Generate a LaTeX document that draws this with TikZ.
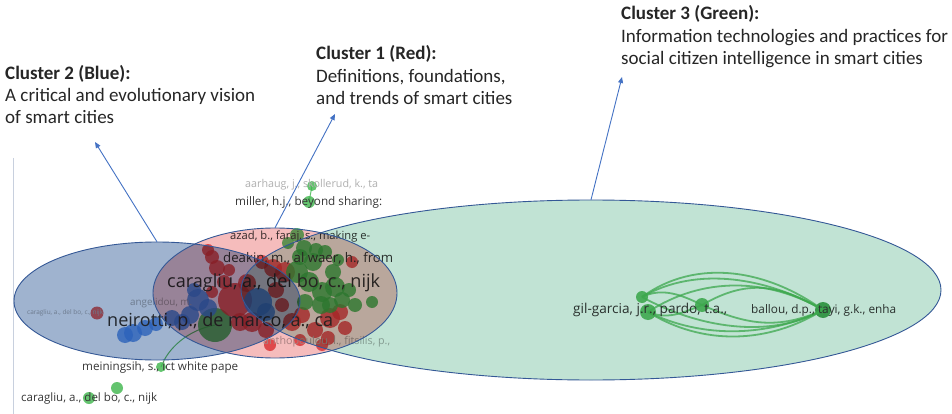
\documentclass[tikz,border=0pt]{standalone}
\usepackage{fontspec}
\setmainfont{Carlito}
\newfontfamily\vos{Open Sans}
\usetikzlibrary{shapes.geometric,arrows.meta}
\definecolor{cR}{RGB}{228,60,64}
\definecolor{cG}{RGB}{62,182,76}
\definecolor{cGd}{RGB}{30,150,50}
\definecolor{cB}{RGB}{70,140,230}
\definecolor{fB}{RGB}{159,179,207}
\definecolor{fR}{RGB}{245,188,188}
\definecolor{fG}{RGB}{193,227,212}
\definecolor{eline}{RGB}{52,88,150}
\definecolor{arr}{RGB}{68,114,196}
\definecolor{labc}{RGB}{55,55,55}
\definecolor{faint}{RGB}{175,175,175}
\definecolor{axisc}{RGB}{200,208,222}
\tikzset{
  bub/.style={circle, inner sep=0pt, fill=#1, fill opacity=0.8, draw=none},
  lab/.style={text=labc, inner sep=0pt, anchor=west},
  flab/.style={text=faint, inner sep=0pt, anchor=west},
  ttl/.style={inner sep=0pt, anchor=base west, font=\fontsize{19}{22}\selectfont, text=black!85},
  ellfill/.style={ellipse, inner sep=0pt, draw=none, fill=#1},
  elline/.style={draw=eline, line width=0.9pt},
  callout/.style={draw=arr, line width=0.9pt, -{Triangle[length=6pt,width=5pt]}},
  garc/.style={draw=cG!90!white, line width=1.8pt, opacity=0.75},
  glink/.style={draw=cG, line width=1pt, opacity=0.8},
}
\begin{document}
\begin{tikzpicture}[x=1pt,y=-1pt]
\useasboundingbox (0,0) rectangle (952,414);
\fill[white] (0,0) rectangle (952,414);
\draw[axisc, line width=0.8pt] (13,158) -- (13,414);

% links
\node[bub=cG, minimum size=10] (m1) at (161,367) {};
\node[bub=cG, minimum size=34] (bg) at (215,325) {};
\draw[glink] (m1.center) .. controls (168,348) and (188,330) .. (bg.center);

% bubbles: red
\foreach \x/\y/\r [count=\i] in {97/313/6.5,212/257/7,208/250/6,217/268/8,224/282/7,212/292/6,235/300/17,247/283/9,252/322/10,266/330/8,240/322/9,262/262/7,273/268/9,285/272/10,292/322/9,302/315/8,315/330/8,330/318/10,340/312/8,328/338/7,322/345/6,345/328/7,276/290/8,282/305/7,352/262/6,300/340/6,270/345/6,229/270/6}
  {\node[bub=cR, minimum size=2*\r] (r\i) at (\x,\y) {};}
% bubbles: green
\foreach \x/\y/\r [count=\i] in {297/235/7,288/243/6,304/248/8,300/257/8,313/262/9,325/252/7,297/272/11,309/282/10,322/292/10,335/287/10,342/300/8,349/290/7,321/305/9,305/302/8,333/272/8,316/250/7,338/260/6,355/305/7,372/302/6,330/305/8,117/388/6,89/398/6}
  {\node[bub=cG, minimum size=2*\r] (g\i) at (\x,\y) {};}
% bubbles: blue
\foreach \x/\y/\r [count=\i] in {133/333/9,125/335/8,145/328/8,156/324/7,172/318/8,182/322/8,190/315/9,198/300/11,208/308/9,194/290/7,258/302/14,266/312/9}
  {\node[bub=cB, minimum size=2*\r] (b\i) at (\x,\y) {};}

% small top pair
\node[bub=cG, minimum size=10] (a1) at (312,186) {};
\node[bub=cG, minimum size=12] (a2) at (309,202) {};
\draw[glink] (a1.center) -- (a2.center);

% right cluster
\node[bub=cG, minimum size=12] (k1) at (642,297) {};
\node[bub=cG, minimum size=16] (k2) at (648,312) {};
\node[bub=cG, minimum size=14] (k3) at (702,305) {};
\node[bub=cGd, minimum size=16] (k4) at (823,310) {};
\draw[garc] (k1.center) .. controls +(55,-40) and +(-55,-40) .. (k4.center);
\draw[garc] (k1.center) .. controls +(55,-32) and +(-55,-32) .. (k4.center);
\draw[garc] (k2.center) .. controls +(55,-36) and +(-55,-32) .. (k4.center);
\draw[garc] (k3.center) .. controls +(45,-26) and +(-45,-26) .. (k4.center);
\draw[garc] (k1.center) .. controls +(20,-10) and +(-20,-10) .. (k3.center);
\draw[garc] (k2.center) .. controls +(55,34) and +(-55,34) .. (k4.center);
\draw[garc] (k2.center) .. controls +(55,27) and +(-55,27) .. (k4.center);
\draw[garc] (k1.center) .. controls +(55,30) and +(-55,30) .. (k4.center);
\draw[garc] (k3.center) .. controls +(45,20) and +(-45,20) .. (k4.center);
\draw[garc] (k2.center) .. controls +(20,8) and +(-20,8) .. (k3.center);

% labels
\node[flab] (lA) at (245,185) {\resizebox{133pt}{!}{\vos aarhaug, j., skollerud, k., ta}};
\node[lab] (lM) at (235,202) {\resizebox{147pt}{!}{\vos miller, h.j., beyond sharing:}};
\node[lab] (lZ) at (230,237) {\resizebox{140pt}{!}{\vos azad, b., faraj, s., making e-}};
\node[lab] (lD) at (223,258) {\resizebox{170pt}{!}{\vos deakin, m., al waer, h., from}};
\node[lab] (lC) at (167,283) {\resizebox{213pt}{!}{\vos caragliu, a., del bo, c., nijk}};
\node[lab] (lN) at (107,322) {\resizebox{226pt}{!}{\vos neirotti, p., de marco, a., ca}};
\node[flab] (lF) at (27,313) {\resizebox{76pt}{!}{\vos caragliu, a., del bo, c., nijk}};
\node[flab] (lG) at (130,303) {\resizebox{62pt}{!}{\vos angelidou, m.}};
\node[flab] (lT) at (263,342) {\resizebox{127pt}{!}{\vos anthopoulou, l., fitsilis, p.,}};
\node[lab] (lI) at (82,367) {\resizebox{156pt}{!}{\vos meiningsih, s., ict white pape}};
\node[lab] (lB) at (21,398) {\resizebox{136pt}{!}{\vos caragliu, a., del bo, c., nijk}};
\node[lab] (lGG) at (573,310) {\resizebox{154pt}{!}{\vos gil-garcia, j.r., pardo, t.a.,}};
\node[lab] (lBA) at (751,310) {\resizebox{145pt}{!}{\vos ballou, d.p., tayi, g.k., enha}};

% cluster ellipses (multiply)
\begin{scope}[blend mode=multiply]
\node[ellfill=fB, minimum width=286pt, minimum height=118pt] (ellB) at (157,301) {};
\node[ellfill=fR, minimum width=244pt, minimum height=130pt] (ellR) at (275,293) {};
\node[ellfill=fG, minimum width=700pt, minimum height=180pt] (ellG) at (591,290) {};
\end{scope}
\draw[elline] (ellB.center) ellipse [x radius=143, y radius=59];
\draw[elline] (ellR.center) ellipse [x radius=122, y radius=65];
\draw[elline] (ellG.center) ellipse [x radius=350, y radius=90];

% titles
\node[ttl] (t2a) at (5,80) {\textbf{Cluster 2 (Blue):}};
\node[ttl] (t2b) at (5,102) {A critical and evolutionary vision};
\node[ttl] (t2c) at (5,124) {of smart cities};
\node[ttl] (t1a) at (316,60) {\textbf{Cluster 1 (Red):}};
\node[ttl] (t1b) at (316,82.5) {Definitions, foundations,};
\node[ttl] (t1c) at (316,105) {and trends of smart cities};
\node[ttl] (t3a) at (621,20) {\textbf{Cluster 3 (Green):}};
\node[ttl] (t3b) at (621,42.5) {Information technologies and practices for};
\node[ttl] (t3c) at (621,65) {social citizen intelligence in smart cities};

% callouts
\coordinate (tipB) at (95,142);
\coordinate (tipR) at (335,114);
\coordinate (tipG) at (622,77);
\draw[callout] (ellB.north) -- (tipB);
\draw[callout] (ellR.north) -- (tipR);
\draw[callout] (ellG.north) -- (tipG);
\end{tikzpicture}
\end{document}
